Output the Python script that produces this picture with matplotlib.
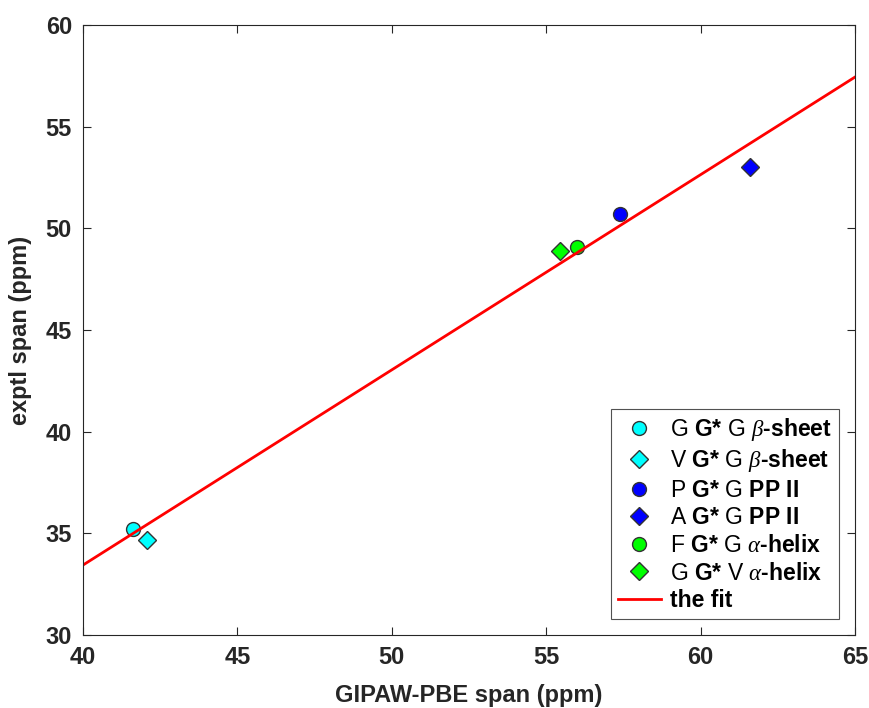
import matplotlib
matplotlib.use("Agg")
import matplotlib.pyplot as plt
import numpy as np

plt.rcParams['font.family'] = ['Liberation Sans', 'DejaVu Sans']
plt.rcParams['mathtext.fontset'] = 'custom'
plt.rcParams['mathtext.rm'] = 'Liberation Sans'
plt.rcParams['mathtext.it'] = 'Liberation Serif:italic'
plt.rcParams['mathtext.bf'] = 'Liberation Sans:bold'

# data
labels = [r"$\mathrm{G}$ G* $\mathrm{G}$ $\beta$-sheet",
          r"$\mathrm{V}$ G* $\mathrm{G}$ $\beta$-sheet",
          r"$\mathrm{P}$ G* $\mathrm{G}$ PP II",
          r"$\mathrm{A}$ G* $\mathrm{G}$ PP II",
          r"$\mathrm{F}$ G* $\mathrm{G}$ $\alpha$-helix",
          r"$\mathrm{G}$ G* $\mathrm{V}$ $\alpha$-helix"]
calc_span = [41.62, 42.07, 57.39, 61.6, 56.0, 55.45]
exptl_span = [35.2, 34.67, 50.7, 53.0, 49.1, 48.88]
colors = ['cyan', 'cyan', 'blue', 'blue', '#00ff00', '#00ff00']
markers = ['o', 'D', 'o', 'D', 'o', 'D']

# fit line
fit_slope = 0.96
fit_intercept = -4.96
fit_x = [40, 65]

fig = plt.figure(figsize=(8.7, 7.08), dpi=100)
ax = fig.add_axes([0.0954, 0.1031, 0.8874, 0.8616])

for x, y, c, m, lab in zip(calc_span, exptl_span, colors, markers, labels):
    ax.plot(x, y, linestyle='none', marker=m, color=c, markeredgecolor='#333333',
            markeredgewidth=1.0, markersize=10 if m == 'o' else 9, label=lab)

fx = np.array(fit_x)
ax.plot(fx, fit_slope * fx + fit_intercept, color='red', linewidth=2, label='the fit')

ax.set_xlim(40, 65)
ax.set_ylim(30, 60)
ax.set_xticks(range(40, 66, 5))
ax.set_yticks(range(30, 61, 5))
ax.tick_params(direction='in', top=True, right=True, length=6, width=0.8,
               labelsize=17, colors='#262626', pad=8)
for t in ax.get_xticklabels() + ax.get_yticklabels():
    t.set_fontweight('bold')
for s in ax.spines.values():
    s.set_color('#262626')
    s.set_linewidth(0.8)

ax.set_xlabel('GIPAW-PBE span (ppm)', fontsize=17, fontweight='bold', color='#262626', labelpad=11)
ax.set_ylabel('exptl span (ppm)', fontsize=17, fontweight='bold', color='#262626', labelpad=10)

leg = ax.legend(loc='lower right', prop={'weight': 'bold', 'size': 16.5},
                frameon=True, fancybox=False, edgecolor='#262626', borderaxespad=0.7,
                handlelength=1.9, handletextpad=0.4, labelspacing=0.2, borderpad=0.3)
leg.get_frame().set_linewidth(0.8)

fig.savefig('out.png', dpi=100)
